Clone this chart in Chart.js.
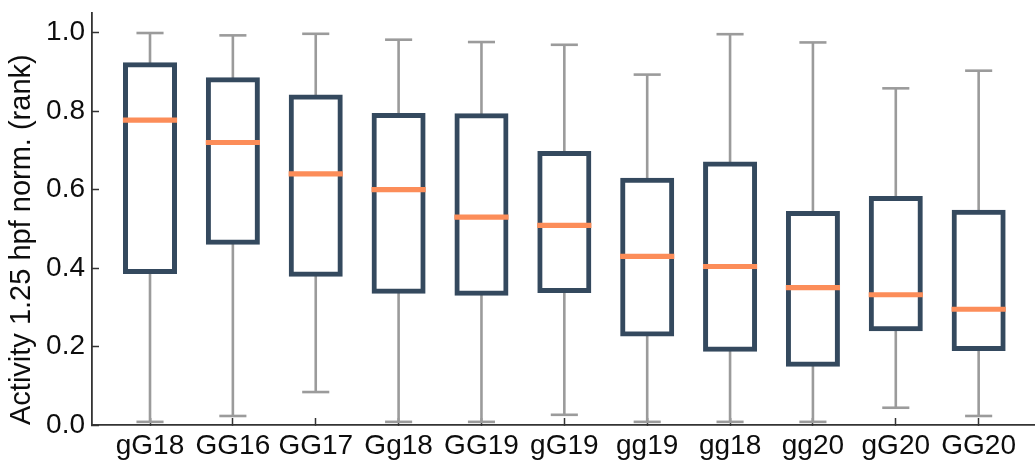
<!DOCTYPE html>
<html>
<head>
<meta charset="utf-8">
<script src="https://cdn.jsdelivr.net/npm/chart.js@4.4.1/dist/chart.umd.min.js"></script>
<style>
  html, body { margin: 0; padding: 0; background: #ffffff; }
  #wrap { width: 1035px; height: 462px; position: relative; }
</style>
</head>
<body>
<div id="wrap"><canvas id="c" width="1035" height="462"></canvas></div>
<script>
// ---- data ----
const categories  = ['gG18','GG16','GG17','Gg18','GG19','gG19','gg19','gg18','gg20','gG20','GG20'];
const whiskerLow  = [0.008, 0.023, 0.084, 0.008, 0.008, 0.026, 0.008, 0.008, 0.008, 0.044, 0.023];
const q1          = [0.391, 0.466, 0.384, 0.341, 0.336, 0.343, 0.232, 0.193, 0.155, 0.245, 0.195];
const median      = [0.777, 0.720, 0.640, 0.600, 0.530, 0.509, 0.430, 0.404, 0.350, 0.332, 0.295];
const q3          = [0.918, 0.880, 0.836, 0.789, 0.788, 0.692, 0.624, 0.665, 0.539, 0.577, 0.542];
const whiskerHigh = [0.999, 0.993, 0.997, 0.982, 0.976, 0.969, 0.893, 0.996, 0.975, 0.858, 0.903];
const yTicks      = [0.0, 0.2, 0.4, 0.6, 0.8, 1.0];
const yTitle      = 'Activity 1.25 hpf norm. (rank)';

const pos = categories.map((_, i) => i + 1);

const NAVY = '#34495e';
const ORANGE = '#fc8d59';
const GRAY = '#9b9b9b';
const AXIS = '#333333';
const TEXT = '#0d0d0d';
const FONT = "'Liberation Sans', Arial, Helvetica, sans-serif";

const boxData     = pos.map((x, i) => ({ x, y: [q1[i], q3[i]] }));
const medianData  = pos.map((x, i) => ({ x, y: [median[i], median[i]] }));
const whiskerData = pos.map((x, i) => ({ x, y: [whiskerLow[i], whiskerHigh[i]] }));
const capHiData   = pos.map((x, i) => ({ x, y: [whiskerHigh[i], whiskerHigh[i]] }));
const capLoData   = pos.map((x, i) => ({ x, y: [whiskerLow[i], whiskerLow[i]] }));

new Chart(document.getElementById('c'), {
  type: 'bar',
  data: {
    datasets: [
      { label: 'median', data: medianData, backgroundColor: ORANGE, borderWidth: 0,
        barThickness: 49, inflateAmount: 2.6, order: 0 },
      { label: 'box', data: boxData, backgroundColor: '#ffffff', borderColor: NAVY,
        borderWidth: 5, borderSkipped: false, barThickness: 49, inflateAmount: 2.5, order: 1 },
      { label: 'capHi', data: capHiData, backgroundColor: GRAY, borderWidth: 0,
        barThickness: 24.5, inflateAmount: 1.3, order: 2 },
      { label: 'capLo', data: capLoData, backgroundColor: GRAY, borderWidth: 0,
        barThickness: 24.5, inflateAmount: 1.3, order: 2 },
      { label: 'whisker', data: whiskerData, backgroundColor: GRAY, borderWidth: 0,
        barThickness: 2.6, inflateAmount: 0, order: 3 }
    ]
  },
  options: {
    responsive: false,
    animation: false,
    devicePixelRatio: 1,
    layout: { padding: { top: 13, right: 0, left: 0, bottom: 0 } },
    datasets: { bar: { grouped: false } },
    plugins: { legend: { display: false }, tooltip: { enabled: false }, title: { display: false } },
    scales: {
      x: {
        type: 'linear',
        offset: false,
        min: 0.3,
        max: 11.68,
        afterBuildTicks: s => { s.ticks = pos.map(v => ({ value: v })); },
        afterFit: s => { s.height = 37; s.paddingLeft = 0; s.paddingRight = 0; },
        ticks: {
          autoSkip: false,
          maxRotation: 0,
          padding: 11,
          color: TEXT,
          font: { family: FONT, size: 28 },
          callback: v => categories[Math.round(v) - 1] || ''
        },
        grid: { offset: false, drawOnChartArea: false, drawTicks: true, tickLength: -7, tickColor: AXIS, tickWidth: 1.5 },
        border: { display: true, color: AXIS, width: 1.8 }
      },
      y: {
        type: 'linear',
        min: 0,
        max: 1.05,
        afterBuildTicks: s => { s.ticks = yTicks.map(v => ({ value: v })); },
        afterFit: s => { s.width = 92; s.paddingTop = 0; s.paddingBottom = 0; },
        ticks: {
          padding: 14,
          color: TEXT,
          font: { family: FONT, size: 28 },
          callback: v => Number(v).toFixed(1)
        },
        grid: { drawOnChartArea: false, drawTicks: true, tickLength: -7, tickColor: AXIS, tickWidth: 1.5 },
        border: { display: true, color: AXIS, width: 1.8 },
        title: {
          display: true,
          text: yTitle,
          align: 'start',
          color: TEXT,
          font: { family: FONT, size: 29 },
          padding: { top: 5, bottom: 0 }
        }
      }
    }
  }
});
</script>
</body>
</html>
